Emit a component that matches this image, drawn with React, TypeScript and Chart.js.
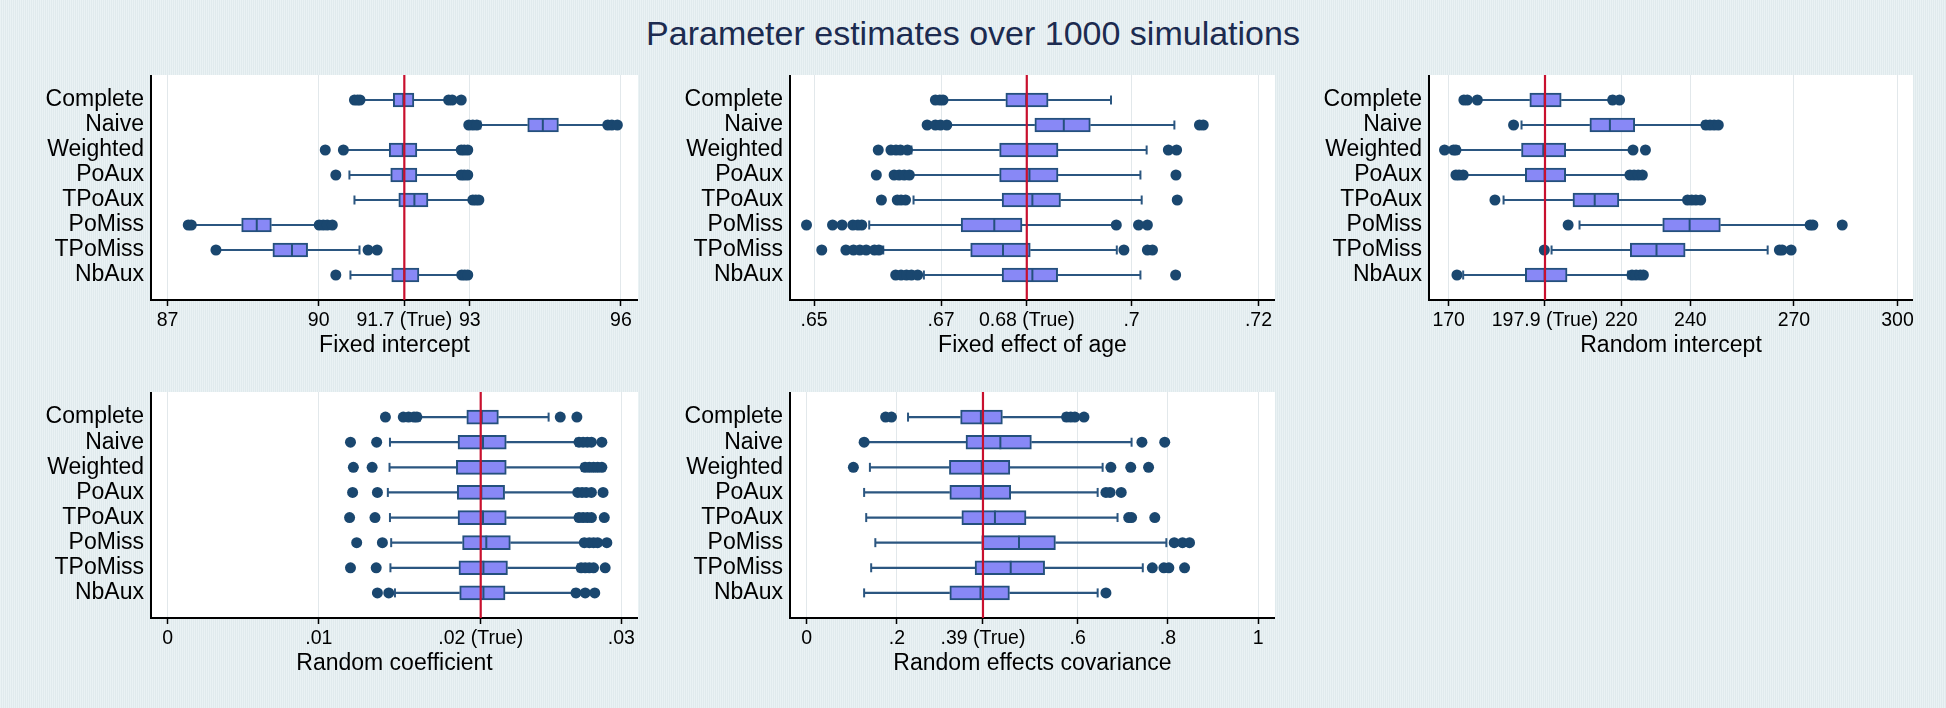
import React, { useEffect, useRef } from "react";
import { Chart, registerables } from "chart.js";

Chart.register(...registerables);

// ---------------- data ----------------
const categories = ["Complete", "Naive", "Weighted", "PoAux", "TPoAux", "PoMiss", "TPoMiss", "NbAux"];

// Panel 1: Fixed intercept
const fiLow = [90.83, 93.21, 90.5, 90.61, 90.71, 87.49, 87.96, 90.63];
const fiQ1 = [91.48, 94.15, 91.4, 91.43, 91.59, 88.47, 89.09, 91.45];
const fiMed = [91.68, 94.45, 91.67, 91.67, 91.9, 88.77, 89.47, 91.7];
const fiQ3 = [91.89, 94.76, 91.95, 91.95, 92.17, 89.06, 89.78, 91.99];
const fiHigh = [92.55, 95.7, 92.79, 92.79, 93.02, 89.97, 90.81, 92.81];
const fiOut = [
  [90.71, 90.77, 90.82, 92.58, 92.65, 92.83],
  [92.98, 93.06, 93.14, 95.74, 95.82, 95.93],
  [90.13, 90.49, 92.83, 92.89, 92.96],
  [90.34, 92.83, 92.89, 92.96],
  [93.06, 93.12, 93.18],
  [87.41, 87.47, 90.01, 90.09, 90.17, 90.27],
  [87.96, 90.98, 91.16],
  [90.34, 92.84, 92.9, 92.96],
];
const fiTicks = [87, 90, 91.7, 93, 96];
const fiTickLabels = ["87", "90", "91.7 (True)", "93", "96"];
const fiTrue = 91.7;

// Panel 2: Fixed effect of age
const faLow = [0.67055, 0.6712, 0.66533, 0.66533, 0.66566, 0.65868, 0.66089, 0.66729];
const faQ1 = [0.6802, 0.68477, 0.67922, 0.67922, 0.67961, 0.67316, 0.67466, 0.67961];
const faMed = [0.6834, 0.68933, 0.68359, 0.68392, 0.68438, 0.67838, 0.67975, 0.68438];
const faQ3 = [0.68686, 0.69351, 0.68842, 0.68842, 0.68881, 0.68275, 0.68405, 0.68836];
const faHigh = [0.69677, 0.70675, 0.70238, 0.7014, 0.7016, 0.69742, 0.69768, 0.7014];
const faOut = [
  [0.6691, 0.6698, 0.6703],
  [0.6678, 0.6691, 0.6699, 0.6709, 0.7107, 0.7113],
  [0.6601, 0.6621, 0.6629, 0.6636, 0.6647, 0.7058, 0.7071],
  [0.6598, 0.6626, 0.6634, 0.6642, 0.665, 0.707],
  [0.6606, 0.6631, 0.6637, 0.6644, 0.7072],
  [0.6488, 0.6529, 0.6544, 0.6561, 0.6569, 0.6575, 0.6976, 0.7011, 0.7025],
  [0.6512, 0.655, 0.6562, 0.6572, 0.6582, 0.6595, 0.6602, 0.6988, 0.7025, 0.7033],
  [0.66285, 0.6637, 0.66455, 0.66533, 0.66631, 0.70695],
];
const faTicks = [0.65, 0.67, 0.6835, 0.7, 0.72];
const faTickLabels = [".65", ".67", "0.68 (True)", ".7", ".72"];
const faTrue = 0.6835;

// Panel 3: Random intercept
const riLow = [178.9, 191.1, 173.0, 174.8, 185.9, 207.9, 199.8, 174.2];
const riQ1 = [193.5, 210.9, 191.1, 192.2, 206.0, 232.0, 222.6, 192.2];
const riMed = [197.8, 216.7, 197.4, 197.8, 212.3, 239.8, 230.2, 197.8];
const riQ3 = [202.6, 223.9, 203.9, 203.9, 219.3, 248.7, 238.5, 204.3];
const riHigh = [216.7, 243.7, 223.1, 221.9, 238.9, 274.4, 262.4, 222.0];
const riOut = [
  [174.4, 175.4, 178.3, 217.5, 219.5],
  [188.8, 244.5, 245.7, 246.9, 248.1],
  [168.8, 171.4, 172.1, 223.4, 227.0],
  [172.1, 173.0, 174.2, 222.5, 223.7, 224.9, 226.1],
  [183.4, 239.2, 240.4, 241.6, 243.0],
  [204.6, 274.7, 275.5, 284.0],
  [197.7, 265.8, 266.6, 269.2],
  [172.4, 223.1, 224.3, 225.5, 226.4],
];
const riTicks = [170, 197.9, 220, 240, 270, 300];
const riTickLabels = ["170", "197.9 (True)", "220", "240", "270", "300"];
const riTrue = 197.9;

// Panel 4: Random coefficient
const rcLow = [0.01668, 0.0147, 0.01467, 0.01456, 0.0147, 0.01478, 0.01473, 0.01503];
const rcQ1 = [0.01978, 0.0192, 0.01909, 0.01915, 0.0192, 0.0195, 0.01926, 0.01931];
const rcMed = [0.02077, 0.02085, 0.02071, 0.02074, 0.02085, 0.02107, 0.02088, 0.02088];
const rcQ3 = [0.02187, 0.02239, 0.02239, 0.02228, 0.02239, 0.02266, 0.02247, 0.02231];
const rcHigh = [0.02519, 0.027, 0.02739, 0.027, 0.027, 0.02739, 0.02712, 0.02684];
const rcOut = [
  [0.0144, 0.01558, 0.01593, 0.01629, 0.01648, 0.02596, 0.02706],
  [0.01209, 0.01382, 0.0272, 0.02747, 0.02775, 0.02802, 0.02871],
  [0.01228, 0.01352, 0.0276, 0.02788, 0.02816, 0.02843, 0.02871],
  [0.01223, 0.01387, 0.02712, 0.0274, 0.02767, 0.02802, 0.02879],
  [0.01203, 0.01371, 0.0272, 0.02747, 0.02775, 0.02802, 0.02887],
  [0.0125, 0.0142, 0.02755, 0.02788, 0.02816, 0.02843, 0.02904],
  [0.01209, 0.01379, 0.02734, 0.02761, 0.02788, 0.02816, 0.02893],
  [0.01387, 0.01462, 0.027, 0.02761, 0.02824],
];
const rcTicks = [0, 0.01, 0.0207, 0.03];
const rcTickLabels = ["0", ".01", ".02 (True)", ".03"];
const rcTrue = 0.0207;

// Panel 5: Random effects covariance
const rvLow = [0.2246, 0.131, 0.1402, 0.1274, 0.132, 0.1522, 0.143, 0.1274];
const rvQ1 = [0.341, 0.3529, 0.3162, 0.3171, 0.3437, 0.3877, 0.373, 0.3171];
const rvMed = [0.3859, 0.429, 0.3877, 0.3859, 0.417, 0.4702, 0.4519, 0.385];
const rvQ3 = [0.4335, 0.4977, 0.45, 0.4519, 0.4858, 0.5509, 0.527, 0.4491];
const rvHigh = [0.5692, 0.7195, 0.6554, 0.6444, 0.6884, 0.7965, 0.7443, 0.6444];
const rvOut = [
  [0.175, 0.188, 0.5756, 0.5848, 0.594, 0.6141],
  [0.1274, 0.7424, 0.7929],
  [0.1036, 0.6737, 0.7177, 0.7571],
  [0.6627, 0.6719, 0.6966],
  [0.7131, 0.7195, 0.7709],
  [0.8139, 0.8323, 0.8478],
  [0.7654, 0.791, 0.802, 0.8368],
  [0.6627],
];
const rvTicks = [0, 0.2, 0.3905, 0.6, 0.8, 1];
const rvTickLabels = ["0", ".2", ".39 (True)", ".6", ".8", "1"];
const rvTrue = 0.3905;

const mainTitle = "Parameter estimates over 1000 simulations";

// ---------------- styling ----------------
const FONT = "'Liberation Sans', Arial, Helvetica, sans-serif";
const BOX_FILL = "#8888f6";
const BOX_LINE = "#24507d";
const WHISKER = "#2b5680";
const DOT = "#1a476f";
const RED = "#c8102e";
const GRID = "#e2e8eb";

type PanelSpec = {
  title: string;
  lo: number[]; q1: number[]; med: number[]; q3: number[]; hi: number[];
  out: number[][];
  ticks: number[]; tickLabels: string[]; truth: number;
  min: number; max: number;
};

type Layout = { left: number; top: number; width: number; height: number; yW: number; xH: number };

const panels: { spec: PanelSpec; layout: Layout }[] = [
  {
    spec: { title: "Fixed intercept", lo: fiLow, q1: fiQ1, med: fiMed, q3: fiQ3, hi: fiHigh, out: fiOut, ticks: fiTicks, tickLabels: fiTickLabels, truth: fiTrue, min: 86.67, max: 96.34 },
    layout: { left: 0, top: 75, width: 638, height: 300, yW: 151, xH: 75 },
  },
  {
    spec: { title: "Fixed effect of age", lo: faLow, q1: faQ1, med: faMed, q3: faQ3, hi: faHigh, out: faOut, ticks: faTicks, tickLabels: faTickLabels, truth: faTrue, min: 0.6462, max: 0.7226 },
    layout: { left: 640, top: 75, width: 635, height: 300, yW: 150, xH: 75 },
  },
  {
    spec: { title: "Random intercept", lo: riLow, q1: riQ1, med: riMed, q3: riQ3, hi: riHigh, out: riOut, ticks: riTicks, tickLabels: riTickLabels, truth: riTrue, min: 164.3, max: 304.5 },
    layout: { left: 1280, top: 75, width: 633, height: 300, yW: 149, xH: 75 },
  },
  {
    spec: { title: "Random coefficient", lo: rcLow, q1: rcQ1, med: rcMed, q3: rcQ3, hi: rcHigh, out: rcOut, ticks: rcTicks, tickLabels: rcTickLabels, truth: rcTrue, min: -0.0011, max: 0.0311 },
    layout: { left: 0, top: 392, width: 638, height: 301, yW: 151, xH: 75 },
  },
  {
    spec: { title: "Random effects covariance", lo: rvLow, q1: rvQ1, med: rvMed, q3: rvQ3, hi: rvHigh, out: rvOut, ticks: rvTicks, tickLabels: rvTickLabels, truth: rvTrue, min: -0.0367, max: 1.037 },
    layout: { left: 640, top: 392, width: 635, height: 301, yW: 150, xH: 75 },
  },
];

const whiteArea = {
  id: "whiteArea",
  beforeDraw(chart: any) {
    const { ctx, chartArea } = chart;
    if (!chartArea) return;
    ctx.save();
    ctx.fillStyle = "#ffffff";
    ctx.fillRect(chartArea.left, chartArea.top, chartArea.right - chartArea.left, chartArea.bottom - chartArea.top);
    ctx.restore();
  },
};

function buildConfig(p: PanelSpec, l: Layout): any {
  const boxData = categories.map((_, i) => ({ y: i + 1, x: [p.q1[i], p.q3[i]] }));
  const whiskerData: any[] = [];
  const capData: any[] = [];
  const medData: any[] = [];
  const outData: any[] = [];
  categories.forEach((_, i) => {
    const y = i + 1;
    whiskerData.push({ x: p.lo[i], y }, { x: p.q1[i], y }, { x: null, y: null });
    whiskerData.push({ x: p.q3[i], y }, { x: p.hi[i], y }, { x: null, y: null });
    capData.push({ x: p.lo[i], y }, { x: p.hi[i], y });
    medData.push({ x: p.med[i], y });
    p.out[i].forEach((v) => outData.push({ x: v, y }));
  });
  const trueData = [{ x: p.truth, y: 0 }, { x: p.truth, y: 9 }];

  return {
    type: "bar",
    data: {
      datasets: [
        {
          type: "line", data: whiskerData, borderColor: WHISKER, borderWidth: 2.2,
          pointRadius: 0, spanGaps: false, tension: 0, order: 6,
        },
        {
          type: "bar", indexAxis: "y", data: boxData, backgroundColor: BOX_FILL,
          borderColor: BOX_LINE, borderWidth: 2, borderSkipped: false, barThickness: 14, order: 5,
        },
        {
          type: "scatter", data: capData, pointStyle: "line", rotation: 90, pointRadius: 4.5,
          borderColor: WHISKER, borderWidth: 2, order: 4,
        },
        {
          type: "scatter", data: medData, pointStyle: "line", rotation: 90, pointRadius: 7,
          borderColor: BOX_LINE, borderWidth: 2, order: 3,
        },
        {
          type: "scatter", data: outData, pointStyle: "circle", pointRadius: 5.5,
          backgroundColor: DOT, borderColor: DOT, borderWidth: 0, order: 2,
        },
        {
          type: "line", data: trueData, borderColor: RED, borderWidth: 2.2, pointRadius: 0, order: 0,
        },
      ],
    },
    options: {
      responsive: false,
      animation: false,
      events: [],
      layout: { padding: 0, autoPadding: false },
      plugins: { legend: { display: false }, tooltip: { enabled: false }, title: { display: false } },
      scales: {
        x: {
          type: "linear",
          position: "bottom",
          min: p.min,
          max: p.max,
          offset: false,
          afterBuildTicks: (s: any) => { s.ticks = p.ticks.map((v) => ({ value: v })); },
          afterFit: (s: any) => { s.height = l.xH; s.paddingLeft = 0; s.paddingRight = 0; },
          ticks: {
            autoSkip: false, maxRotation: 0, minRotation: 0, padding: 3, color: "#000",
            font: { family: FONT, size: 19.5 },
            callback: (_v: any, idx: number) => p.tickLabels[idx],
          },
          grid: {
            offset: false,
            drawTicks: true,
            tickLength: 6,
            tickWidth: 1.5,
            tickColor: "#000",
            lineWidth: 1,
            color: (ctx: any) => (ctx.tick && Math.abs(ctx.tick.value - p.truth) < 1e-9 ? "rgba(0,0,0,0)" : GRID),
          },
          border: { display: true, color: "#000", width: 2 },
          title: {
            display: true, text: p.title, color: "#000",
            font: { family: FONT, size: 23 }, padding: { top: 0, bottom: 16 },
          },
        },
        y: {
          type: "linear",
          position: "left",
          min: 0,
          max: 9,
          reverse: true,
          offset: false,
          afterBuildTicks: (s: any) => { s.ticks = categories.map((_, i) => ({ value: i + 1 })); },
          afterFit: (s: any) => { s.width = l.yW; s.paddingTop = 0; s.paddingBottom = 0; },
          ticks: {
            autoSkip: false, padding: 7, color: "#000",
            font: { family: FONT, size: 23 },
            callback: (_v: any, idx: number) => categories[idx],
          },
          grid: { display: false, drawTicks: false, offset: false },
          border: { display: true, color: "#000", width: 2 },
        },
      },
    },
    plugins: [whiteArea],
  };
}

function Panel({ spec, layout }: { spec: PanelSpec; layout: Layout }) {
  const ref = useRef<HTMLCanvasElement | null>(null);
  useEffect(() => {
    if (!ref.current) return;
    const chart = new Chart(ref.current, buildConfig(spec, layout));
    return () => chart.destroy();
  }, [spec, layout]);
  return (
    <canvas
      ref={ref}
      width={layout.width}
      height={layout.height}
      style={{ position: "absolute", left: layout.left, top: layout.top, width: layout.width, height: layout.height }}
    />
  );
}

export default function App() {
  return (
    <div
      style={{
        position: "absolute",
        left: 0,
        top: 0,
        width: 1946,
        height: 708,
        overflow: "hidden",
        background: "repeating-linear-gradient(90deg, #eaf2f4 0px, #eaf2f4 1px, #e0eaed 1px, #e0eaed 2px)",
      }}
    >
      <div
        style={{
          position: "absolute",
          left: 0,
          top: 16,
          width: 1946,
          textAlign: "center",
          fontFamily: FONT,
          fontSize: 34,
          lineHeight: "34px",
          color: "#1c2b50",
        }}
      >
        {mainTitle}
      </div>
      {panels.map((pn, i) => (
        <Panel key={i} spec={pn.spec} layout={pn.layout} />
      ))}
    </div>
  );
}
